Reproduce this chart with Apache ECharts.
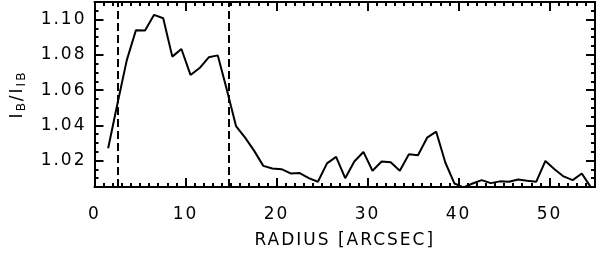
<!DOCTYPE html>
<html>
<head>
<meta charset="utf-8">
<script src="https://cdn.jsdelivr.net/npm/echarts@6/dist/echarts.min.js"></script>
<style>html,body{margin:0;padding:0;background:#fff;}#c{width:598px;height:255px;}</style>
</head>
<body>
<div id="c"></div>
<script>
// widen glyph spacing like the original plot font
(function(){
  var orig = HTMLCanvasElement.prototype.getContext;
  HTMLCanvasElement.prototype.getContext = function(t, o){
    var ctx = orig.call(this, t, o);
    if (ctx && t === '2d' && 'letterSpacing' in ctx) { ctx.letterSpacing = '2px'; }
    return ctx;
  };
})();

var radius = [1.5, 2.55, 3.55, 4.55, 5.55, 6.55, 7.55, 8.55, 9.55, 10.55, 11.55, 12.55, 13.55, 14.55, 15.55, 16.55, 17.55, 18.55, 19.55, 20.55, 21.55, 22.55, 23.55, 24.55, 25.55, 26.55, 27.55, 28.55, 29.55, 30.55, 31.55, 32.55, 33.55, 34.55, 35.55, 36.55, 37.55, 38.55, 39.55, 40.55, 41.55, 42.55, 43.55, 44.55, 45.55, 46.55, 47.55, 48.55, 49.55, 50.55, 51.55, 52.55, 53.55, 54.55];
var ratio = [1.027, 1.053, 1.077, 1.094, 1.0938, 1.1027, 1.1008, 1.079, 1.0833, 1.0686, 1.0725, 1.0786, 1.0797, 1.060, 1.0396, 1.033, 1.0255, 1.017, 1.0155, 1.0151, 1.0127, 1.0129, 1.010, 1.008, 1.0184, 1.0221, 1.010, 1.0195, 1.0249, 1.0142, 1.0195, 1.0190, 1.0142, 1.0236, 1.023, 1.033, 1.0364, 1.0189, 1.007, 1.0048, 1.007, 1.0089, 1.0072, 1.0082, 1.008, 1.0093, 1.0085, 1.008, 1.0198, 1.0151, 1.011, 1.0089, 1.0127, 1.0048];
var xMajor = [0, 10, 20, 30, 40, 50];
var xMinor = [1,2,3,4,5,6,7,8,9,11,12,13,14,15,16,17,18,19,21,22,23,24,25,26,27,28,29,31,32,33,34,35,36,37,38,39,41,42,43,44,45,46,47,48,49,51,52,53,54];
var yMajor = [1.02, 1.04, 1.06, 1.08, 1.10];
var yMinor = [1.005, 1.01, 1.015, 1.025, 1.03, 1.035, 1.045, 1.05, 1.055, 1.065, 1.07, 1.075, 1.085, 1.09, 1.095, 1.105];
var dashedX = [2.5, 14.8];
var xTitle = 'RADIUS [ARCSEC]';
var yTitle = '{m|I}{s|B}{m|/I}{s|IB}';

var FONT = 'DejaVu Sans';
var chart = echarts.init(document.getElementById('c'), null, {renderer: 'canvas'});

function xAx(pos, ticks, len, labels, line) {
  return {
    type: 'value', position: pos, min: 0, max: 55,
    axisLine: {show: line, onZero: false, lineStyle: {color: '#000', width: 2}},
    axisTick: {show: true, inside: true, length: len, customValues: ticks, lineStyle: {color: '#000', width: 2}},
    axisLabel: labels ? {show: true, customValues: ticks, color: '#000', fontFamily: FONT, fontSize: 17, margin: 18} : {show: false},
    splitLine: {show: false}
  };
}
function yAx(pos, ticks, len, labels, line) {
  return {
    type: 'value', position: pos, min: 1.005, max: 1.11,
    axisLine: {show: line, onZero: false, lineStyle: {color: '#000', width: 2}},
    axisTick: {show: true, inside: true, length: len, customValues: ticks, lineStyle: {color: '#000', width: 2}},
    axisLabel: labels ? {show: true, customValues: ticks, color: '#000', fontFamily: FONT, fontSize: 17, margin: 8,
      formatter: function(v){ return v.toFixed(2); }} : {show: false},
    splitLine: {show: false}
  };
}

var xa = [xAx('bottom', xMajor, 9, true, true), xAx('bottom', xMinor, 4, false, false),
          xAx('top', xMajor, 9, false, true), xAx('top', xMinor, 4, false, false)];
xa[0].name = xTitle;
xa[0].nameLocation = 'middle';
xa[0].nameGap = 44;
xa[0].nameTextStyle = {color: '#000', fontFamily: FONT, fontSize: 17};

var ya = [yAx('left', yMajor, 9, true, true), yAx('left', yMinor, 4, false, false),
          yAx('right', yMajor, 9, false, true), yAx('right', yMinor, 4, false, false)];
ya[0].name = yTitle;
ya[0].nameLocation = 'middle';
ya[0].nameGap = 66;
ya[0].nameTextStyle = {color: '#000', fontFamily: FONT, fontSize: 17,
  rich: {m: {fontFamily: FONT, fontSize: 17, color: '#000'},
         s: {fontFamily: FONT, fontSize: 12, color: '#000', padding: [8, 0, 0, 0]}}};

chart.setOption({
  animation: false,
  backgroundColor: '#fff',
  grid: {left: 93, right: 3, top: 2, bottom: 67, containLabel: false},
  xAxis: xa,
  yAxis: ya,
  series: [{
    type: 'line',
    xAxisIndex: 0, yAxisIndex: 0,
    data: radius.map(function(r, i){ return [r, ratio[i]]; }),
    showSymbol: false, symbol: 'none',
    lineStyle: {color: '#000', width: 2},
    clip: true,
    markLine: {
      silent: true, symbol: ['none', 'none'], label: {show: false},
      lineStyle: {color: '#000', width: 2, type: [8, 4]},
      data: dashedX.map(function(v){ return {xAxis: v}; })
    }
  }]
});
</script>
</body>
</html>
